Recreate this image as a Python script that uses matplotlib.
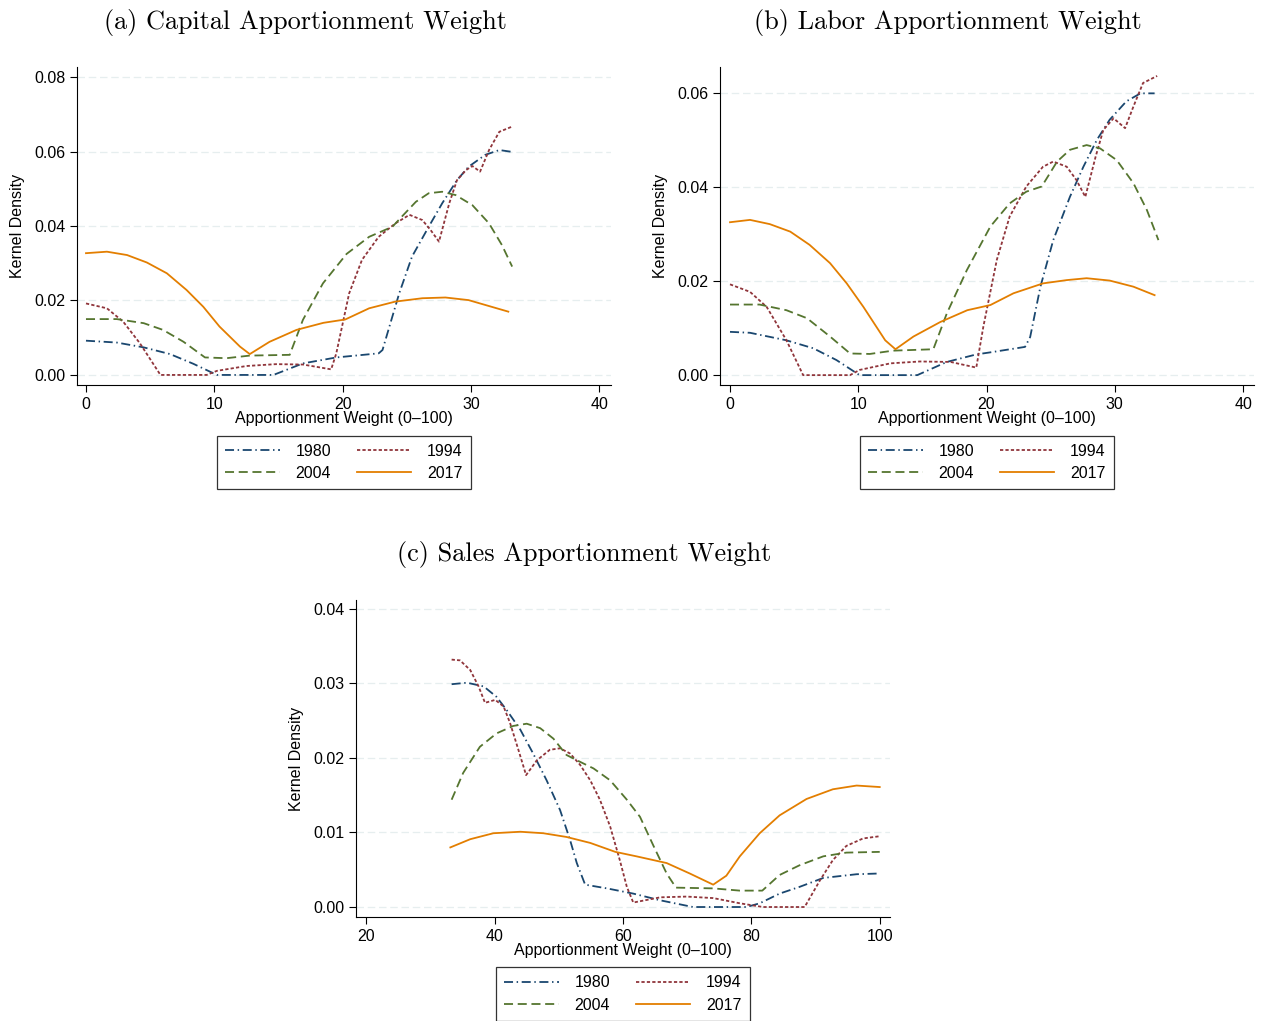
import matplotlib
matplotlib.use("Agg")
import matplotlib.pyplot as plt
from matplotlib.ticker import FormatStrFormatter

plt.rcParams["font.family"] = ["Liberation Sans", "DejaVu Sans"]

YEARS = ["1980", "1994", "2004", "2017"]
COLORS = ["#1a476f", "#90353b", "#55752f", "#e37e00"]
STYLES = [(0, (5, 2, 0.8, 2)), (0, (1.8, 1.2)), (0, (5, 2.6)), "-"]

# (a) capital weight
cap_x_1980 = [0, 2.4, 4.5, 6.55, 8.36, 10.2, 14.6, 16.9, 19.5, 22.8, 23.1, 24.4, 25.4, 26.7, 27.75, 28.9, 29.8, 31.1, 32.2, 33.2]
cap_y_1980 = [0.0092, 0.0087, 0.0074, 0.0056, 0.0030, 0.0, 0.0, 0.0031, 0.0047, 0.0058, 0.0067, 0.0219, 0.0318, 0.0398, 0.0461, 0.0523, 0.0559, 0.0591, 0.0604, 0.0599]
cap_x_1994 = [0, 1.63, 2.9, 4.2, 5.8, 9.4, 10.2, 12.5, 14.8, 16.9, 19.1, 19.5, 20.5, 21.5, 22.8, 24.1, 25.2, 26.2, 26.85, 27.5, 28.3, 28.9, 29.6, 30.1, 30.7, 31.4, 32.2, 33.2]
cap_y_1994 = [0.0192, 0.0179, 0.0143, 0.0085, 0.0, 0.0, 0.0011, 0.0024, 0.0029, 0.0028, 0.0015, 0.0058, 0.0219, 0.0309, 0.0371, 0.0407, 0.0430, 0.0416, 0.0389, 0.0358, 0.0461, 0.0523, 0.0550, 0.0561, 0.0546, 0.0604, 0.0653, 0.0667]
cap_x_2004 = [0, 2.4, 4.5, 6.0, 7.6, 9.27, 10.95, 12.76, 15.87, 16.9, 18.46, 20.3, 22.06, 23.87, 24.6, 25.7, 26.7, 27.75, 28.8, 30.1, 31.4, 32.4, 33.2]
cap_y_2004 = [0.0150, 0.0150, 0.0139, 0.0121, 0.0089, 0.0047, 0.0045, 0.0052, 0.0054, 0.0148, 0.0246, 0.0325, 0.0371, 0.0398, 0.0425, 0.0465, 0.0488, 0.0492, 0.0483, 0.0456, 0.0407, 0.0349, 0.0291]
cap_x_2017 = [0, 1.63, 3.2, 4.74, 6.3, 7.84, 9.14, 10.4, 12.0, 12.76, 14.3, 16.4, 18.5, 20.2, 22.06, 24.1, 26.2, 28.0, 29.8, 31.4, 32.9]
cap_y_2017 = [0.0327, 0.0331, 0.0322, 0.0302, 0.0273, 0.0228, 0.0183, 0.0130, 0.0076, 0.0056, 0.0089, 0.0121, 0.0140, 0.0149, 0.0179, 0.0197, 0.0206, 0.0208, 0.0201, 0.0185, 0.0170]

# (b) labor weight
lab_x_1980 = [0, 1.56, 4.4, 6.5, 8.3, 10.1, 14.6, 16.9, 19.2, 20.2, 23, 23.4, 24.2, 25.2, 26.5, 27.55, 28.6, 29.6, 30.9, 32, 33.1]
lab_y_1980 = [0.0092, 0.0090, 0.0074, 0.0057, 0.0032, 0.0, 0.0, 0.0028, 0.0044, 0.0048, 0.0060, 0.0081, 0.0188, 0.0287, 0.0379, 0.0443, 0.0500, 0.0543, 0.0582, 0.0599, 0.0599]
lab_x_1994 = [0, 1.56, 2.86, 4.4, 5.7, 9.36, 10.1, 12.5, 14.8, 17.2, 19.2, 19.75, 20.8, 21.8, 23.1, 24.4, 25.2, 26.25, 27, 27.7, 28.5, 29.1, 29.9, 30.8, 31.45, 32.2, 33.3]
lab_y_1994 = [0.0193, 0.0177, 0.0145, 0.0074, 0.0, 0.0, 0.0011, 0.0025, 0.0029, 0.0028, 0.0016, 0.0103, 0.0245, 0.0337, 0.0401, 0.0443, 0.0454, 0.0443, 0.0415, 0.0379, 0.0464, 0.0521, 0.0546, 0.0525, 0.0571, 0.0621, 0.0636]
lab_x_2004 = [0, 2.3, 4.4, 6.0, 7.8, 9.36, 10.9, 12.7, 15.85, 16.9, 18.46, 20.3, 21.8, 23.1, 24.3, 25.5, 26.5, 27.8, 28.85, 30.15, 31.45, 32.5, 33.4]
lab_y_2004 = [0.0150, 0.0150, 0.0138, 0.0121, 0.0082, 0.0046, 0.0045, 0.0052, 0.0055, 0.0131, 0.0223, 0.0316, 0.0365, 0.0390, 0.0401, 0.0454, 0.0479, 0.0489, 0.0482, 0.0457, 0.0408, 0.0351, 0.0287]
lab_x_2017 = [0, 1.56, 3.1, 4.7, 6.2, 7.8, 9.1, 10.4, 12.1, 12.9, 14.3, 16.4, 18.5, 20.3, 22.1, 24.4, 26.25, 27.8, 29.6, 31.45, 33.1]
lab_y_2017 = [0.0325, 0.0330, 0.0321, 0.0305, 0.0277, 0.0238, 0.0195, 0.0145, 0.0074, 0.0055, 0.0082, 0.0113, 0.0138, 0.0149, 0.0174, 0.0195, 0.0202, 0.0206, 0.0201, 0.0188, 0.0170]

# (c) sales weight
sal_x_1980 = [33.3, 35.7, 38.3, 40.3, 41.9, 44, 46, 48.1, 50.2, 51.75, 52.8, 54.1, 57.5, 61.6, 65.8, 70.9, 79.25, 81.3, 84.4, 87.5, 91.2, 96.4, 100]
sal_y_1980 = [0.0299, 0.0301, 0.0296, 0.0282, 0.0264, 0.0238, 0.0206, 0.0170, 0.0130, 0.0090, 0.0059, 0.0030, 0.0025, 0.0018, 0.0009, 0.0, 0.0, 0.0005, 0.0018, 0.0027, 0.0039, 0.0044, 0.0045]
sal_x_1994 = [33.3, 34.6, 36.2, 37.5, 38.5, 40.1, 41.4, 42.4, 43.7, 44.9, 46.6, 48.6, 50.2, 51.75, 53.3, 54.9, 56.4, 58, 59.5, 60.6, 61.6, 65.8, 69.9, 74.05, 78.2, 81.8, 88.3, 90.7, 92.7, 94.8, 97.4, 100]
sal_y_1994 = [0.0332, 0.0331, 0.0318, 0.0296, 0.0274, 0.0278, 0.0269, 0.0247, 0.0211, 0.0177, 0.0197, 0.0211, 0.0213, 0.0206, 0.0191, 0.0170, 0.0144, 0.0108, 0.0063, 0.0027, 0.0006, 0.0013, 0.0014, 0.0012, 0.0005, 0.0, 0.0, 0.0036, 0.0063, 0.0082, 0.0092, 0.0095]
sal_x_2004 = [33.3, 35.1, 37.7, 40.3, 42.9, 45, 47.1, 49.15, 51.2, 52.8, 55.4, 58, 60.6, 62.65, 64.7, 66.8, 68.25, 74.05, 78.2, 81.7, 84.4, 87.5, 91.2, 94.8, 100]
sal_y_2004 = [0.0144, 0.0180, 0.0215, 0.0233, 0.0243, 0.0246, 0.0240, 0.0226, 0.0204, 0.0197, 0.0186, 0.0170, 0.0144, 0.0121, 0.0083, 0.0045, 0.0026, 0.0025, 0.0022, 0.0022, 0.0043, 0.0056, 0.0068, 0.0073, 0.0074]
sal_x_2017 = [33.1, 36.2, 39.8, 44, 47.6, 51.2, 54.9, 58.8, 62.1, 66.8, 70.4, 74.05, 76.1, 78.2, 81.3, 84.4, 88.6, 92.7, 96.4, 100]
sal_y_2017 = [0.0080, 0.0091, 0.0099, 0.0101, 0.0099, 0.0094, 0.0086, 0.0074, 0.0068, 0.0059, 0.0045, 0.0030, 0.0042, 0.0068, 0.0099, 0.0123, 0.0145, 0.0158, 0.0163, 0.0161]

W, H = 1267, 1021


def px_axes(left, top, right, bottom):
    return [left / W, 1 - bottom / H, (right - left) / W, (bottom - top) / H]


def draw_panel(ax, series, xlim, ylim, xticks, yticks):
    for (xs, ys), year, color, ls in zip(series, YEARS, COLORS, STYLES):
        ax.plot(xs, ys, color=color, linestyle=ls, linewidth=1.3, label=year)
    ax.set_xlim(*xlim)
    ax.set_ylim(*ylim)
    ax.set_xticks(xticks)
    ax.set_yticks(yticks)
    ax.yaxis.set_major_formatter(FormatStrFormatter("%.2f"))
    for t in yticks:
        ax.axhline(t, color="#e6eeef", linewidth=0.9, linestyle=(0, (6, 3)), zorder=0)
    ax.spines["top"].set_visible(False)
    ax.spines["right"].set_visible(False)
    ax.tick_params(direction="out", length=5, width=0.8, labelsize=11.5)
    ax.set_xlabel("Apportionment Weight (0\u2013100)", fontsize=11.5)
    ax.set_ylabel("Kernel Density", fontsize=11.5)
    ax.xaxis.set_label_coords(0.5, -0.105)
    ax.xaxis.label.set_verticalalignment("center")
    ax.yaxis.set_label_coords(-0.111, 0.5)
    ax.yaxis.label.set_verticalalignment("center")
    handles, labels = ax.get_legend_handles_labels()
    order = [0, 2, 1, 3]  # row-wise: 1980 1994 / 2004 2017
    leg = ax.legend(
        [handles[i] for i in order],
        [labels[i] for i in order],
        loc="upper center",
        bbox_to_anchor=(0.5, -0.134),
        ncol=2,
        fontsize=11.5,
        frameon=True,
        fancybox=False,
        edgecolor="black",
        handlelength=3.4,
        handletextpad=1.0,
        columnspacing=1.6,
        borderpad=0.5,
        labelspacing=0.45,
    )
    leg.get_frame().set_linewidth(0.9)


fig = plt.figure(figsize=(W / 100, H / 100), dpi=100)

ax_a = fig.add_axes(px_axes(77, 67, 611, 385))
draw_panel(
    ax_a,
    [(cap_x_1980, cap_y_1980), (cap_x_1994, cap_y_1994), (cap_x_2004, cap_y_2004), (cap_x_2017, cap_y_2017)],
    (-0.7, 40.9), (-0.0027, 0.0827), [0, 10, 20, 30, 40], [0.0, 0.02, 0.04, 0.06, 0.08],
)

ax_b = fig.add_axes(px_axes(720, 67, 1254, 385))
draw_panel(
    ax_b,
    [(lab_x_1980, lab_y_1980), (lab_x_1994, lab_y_1994), (lab_x_2004, lab_y_2004), (lab_x_2017, lab_y_2017)],
    (-0.78, 40.85), (-0.0021, 0.0655), [0, 10, 20, 30, 40], [0.0, 0.02, 0.04, 0.06],
)

ax_c = fig.add_axes(px_axes(356, 600, 890, 917))
draw_panel(
    ax_c,
    [(sal_x_1980, sal_y_1980), (sal_x_1994, sal_y_1994), (sal_x_2004, sal_y_2004), (sal_x_2017, sal_y_2017)],
    (18.4, 101.6), (-0.00134, 0.0412), [20, 40, 60, 80, 100], [0.0, 0.01, 0.02, 0.03, 0.04],
)

title_kw = dict(fontsize=18.9, family="cmr10", ha="center", va="center")
fig.text(305 / W, 1 - 23 / H, "(a) Capital Apportionment Weight", **title_kw)
fig.text(948 / W, 1 - 23 / H, "(b) Labor Apportionment Weight", **title_kw)
fig.text(584 / W, 1 - 554 / H, "(c) Sales Apportionment Weight", **title_kw)

fig.savefig("out.png", dpi=100, facecolor="white")
